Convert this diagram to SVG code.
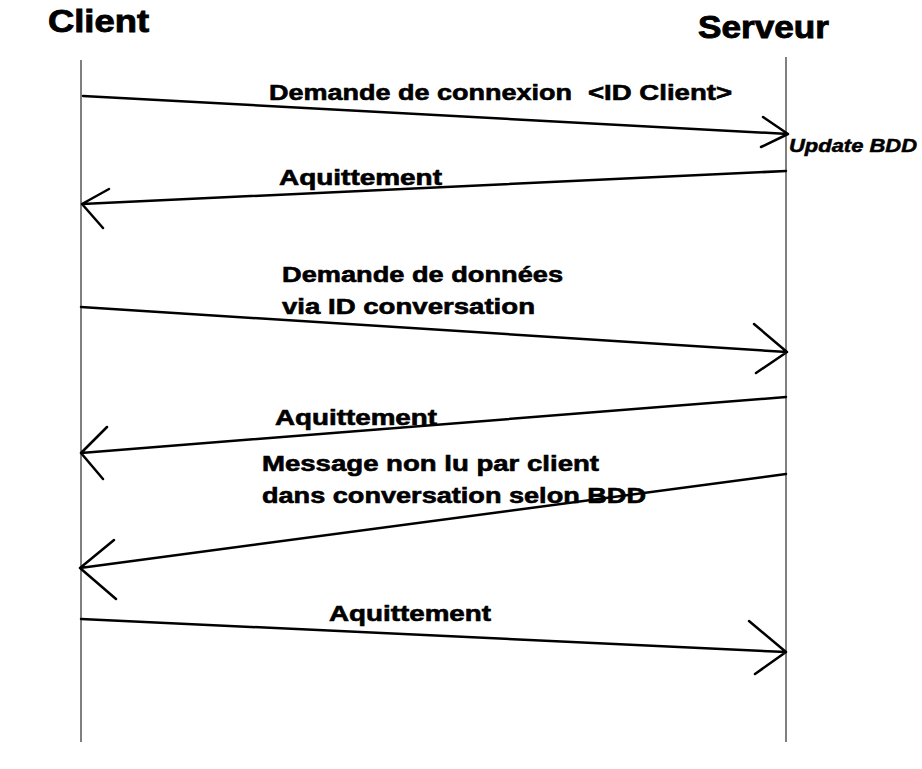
<svg xmlns="http://www.w3.org/2000/svg" width="922" height="769" viewBox="0 0 922 769">
<style>
.life{stroke:#000;stroke-width:1;fill:none}
.msg{stroke:#000;stroke-width:2.5;fill:none;stroke-linecap:round;stroke-linejoin:round}
text{font-family:"Liberation Sans",Arial,sans-serif;font-weight:bold;fill:#000;stroke:#000;stroke-width:0.6}
.h{font-size:32px;stroke-width:0.9}
.l{font-size:22px}
.u{font-size:18px;font-style:italic;stroke-width:0.5}
</style>
<rect width="922" height="769" fill="#fff"/>
<g id="client">
<text class="h" x="48" y="32" textLength="101" lengthAdjust="spacingAndGlyphs">Client</text>
<line class="life" x1="81" y1="60" x2="81" y2="742"/>
</g>
<g id="serveur">
<text class="h" x="698" y="38" textLength="131" lengthAdjust="spacingAndGlyphs">Serveur</text>
<line class="life" x1="786" y1="57" x2="786" y2="742"/>
<text class="u" x="789" y="152" textLength="128" lengthAdjust="spacingAndGlyphs">Update BDD</text>
</g>
<g id="connectors">
<path class="msg" d="M83,96 L788,134 M763,117 L788,134 L761,147"/>
<path class="msg" d="M786,171 L82,204 M109,189 L82,204 L103,228"/>
<path class="msg" d="M81,307 L787,352 M754,324 L787,352 L756,373"/>
<path class="msg" d="M786,397 L81,453 M107,427 L81,453 L103,479"/>
<path class="msg" d="M786,474 L80,568 M114,540 L80,568 L116,599"/>
<path class="msg" d="M81,619 L786,652 M749,621 L786,652 L755,674"/>
</g>
<g id="labels">
<text class="l" x="269" y="100" textLength="303" lengthAdjust="spacingAndGlyphs">Demande de connexion</text>
<text class="l" x="588" y="100" textLength="144" lengthAdjust="spacingAndGlyphs">&lt;ID Client&gt;</text>
<text class="l" x="279" y="185" textLength="163" lengthAdjust="spacingAndGlyphs">Aquittement</text>
<text class="l" x="282" y="282" textLength="281" lengthAdjust="spacingAndGlyphs">Demande de données</text>
<text class="l" x="282" y="314" textLength="253" lengthAdjust="spacingAndGlyphs">via ID conversation</text>
<text class="l" x="275" y="425" textLength="162" lengthAdjust="spacingAndGlyphs">Aquittement</text>
<text class="l" x="262" y="471" textLength="337" lengthAdjust="spacingAndGlyphs">Message non lu par client</text>
<text class="l" x="262" y="503" textLength="384" lengthAdjust="spacingAndGlyphs">dans conversation selon BDD</text>
<text class="l" x="329" y="621" textLength="162" lengthAdjust="spacingAndGlyphs">Aquittement</text>
</g>
</svg>
